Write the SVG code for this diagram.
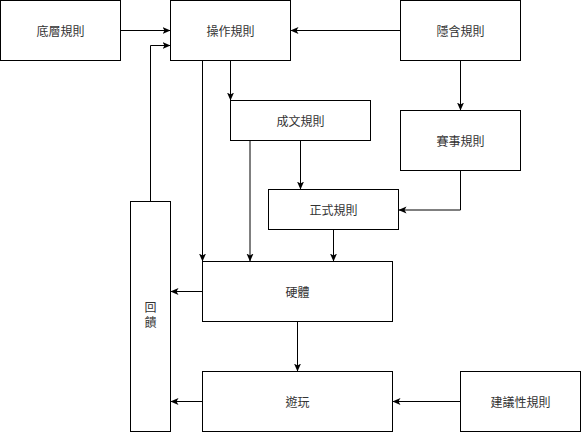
<svg xmlns="http://www.w3.org/2000/svg" width="581" height="432" viewBox="0 0 581 432">
<style>
.n rect{fill:#fff;stroke:#000;stroke-width:1}
.n text{font-family:"Noto Sans CJK TC","Noto Sans CJK SC",sans-serif;font-size:12px;fill:#333;text-anchor:middle;dominant-baseline:central}
.c path{fill:none;stroke:#000;stroke-width:1;marker-end:url(#ah)}
</style>
<defs>
<marker id="ah" viewBox="0 0 8 8" refX="8" refY="4" markerWidth="8" markerHeight="8" markerUnits="userSpaceOnUse" orient="auto">
<path d="M0,0.5 L8,4 L0,7.5 L2,4 Z" fill="#000"/>
</marker>
</defs>
<rect width="581" height="432" fill="#fff"/>
<g class="c" id="connectors">
<path d="M120.5,30.5 H170.5"/>
<path d="M150.5,201.5 V45.5 H170.5"/>
<path d="M400.5,30.5 H290.5"/>
<path d="M460.5,60.5 V110.5"/>
<path d="M230.5,60.5 V100.5"/>
<path d="M202.5,60.5 V261.5"/>
<path d="M250,140.5 V261.5"/>
<path d="M300.5,140.5 V189.5"/>
<path d="M460.5,170.5 V210 H398.5"/>
<path d="M333.5,229.5 V261.5"/>
<path d="M202.5,291.5 H170.5"/>
<path d="M297.5,321.5 V371.5"/>
<path d="M202.5,401.5 H170.5"/>
<path d="M460.5,401.5 H392.5"/>
</g>
<g class="n" id="dicengguize"><rect x="0.5" y="0.5" width="120" height="60"/><text x="60.5" y="30.5">底層規則</text></g>
<g class="n" id="caozuoguize"><rect x="170.5" y="0.5" width="120" height="60"/><text x="230.5" y="30.5">操作規則</text></g>
<g class="n" id="yinhanguize"><rect x="400.5" y="0.5" width="120" height="60"/><text x="460.5" y="30.5">隱含規則</text></g>
<g class="n" id="chengwenguize"><rect x="230.5" y="100.5" width="140" height="40"/><text x="300.5" y="120.5">成文規則</text></g>
<g class="n" id="saishiguize"><rect x="400.5" y="110.5" width="120" height="60"/><text x="460.5" y="140.5">賽事規則</text></g>
<g class="n" id="zhengshiguize"><rect x="268.5" y="189.5" width="130" height="40"/><text x="333.5" y="209.5">正式規則</text></g>
<g class="n" id="yingti"><rect x="202.5" y="261.5" width="190" height="60"/><text x="297.5" y="291.5">硬體</text></g>
<g class="n" id="huikui"><rect x="130.5" y="201.5" width="40" height="230"/><text x="150.5" y="316" style="writing-mode:vertical-rl;letter-spacing:3px">回饋</text></g>
<g class="n" id="wanshua"><rect x="202.5" y="371.5" width="190" height="60"/><text x="297.5" y="401.5">遊玩</text></g>
<g class="n" id="jianyixingguize"><rect x="460.5" y="371.5" width="120" height="60"/><text x="520.5" y="401.5">建議性規則</text></g>
</svg>
